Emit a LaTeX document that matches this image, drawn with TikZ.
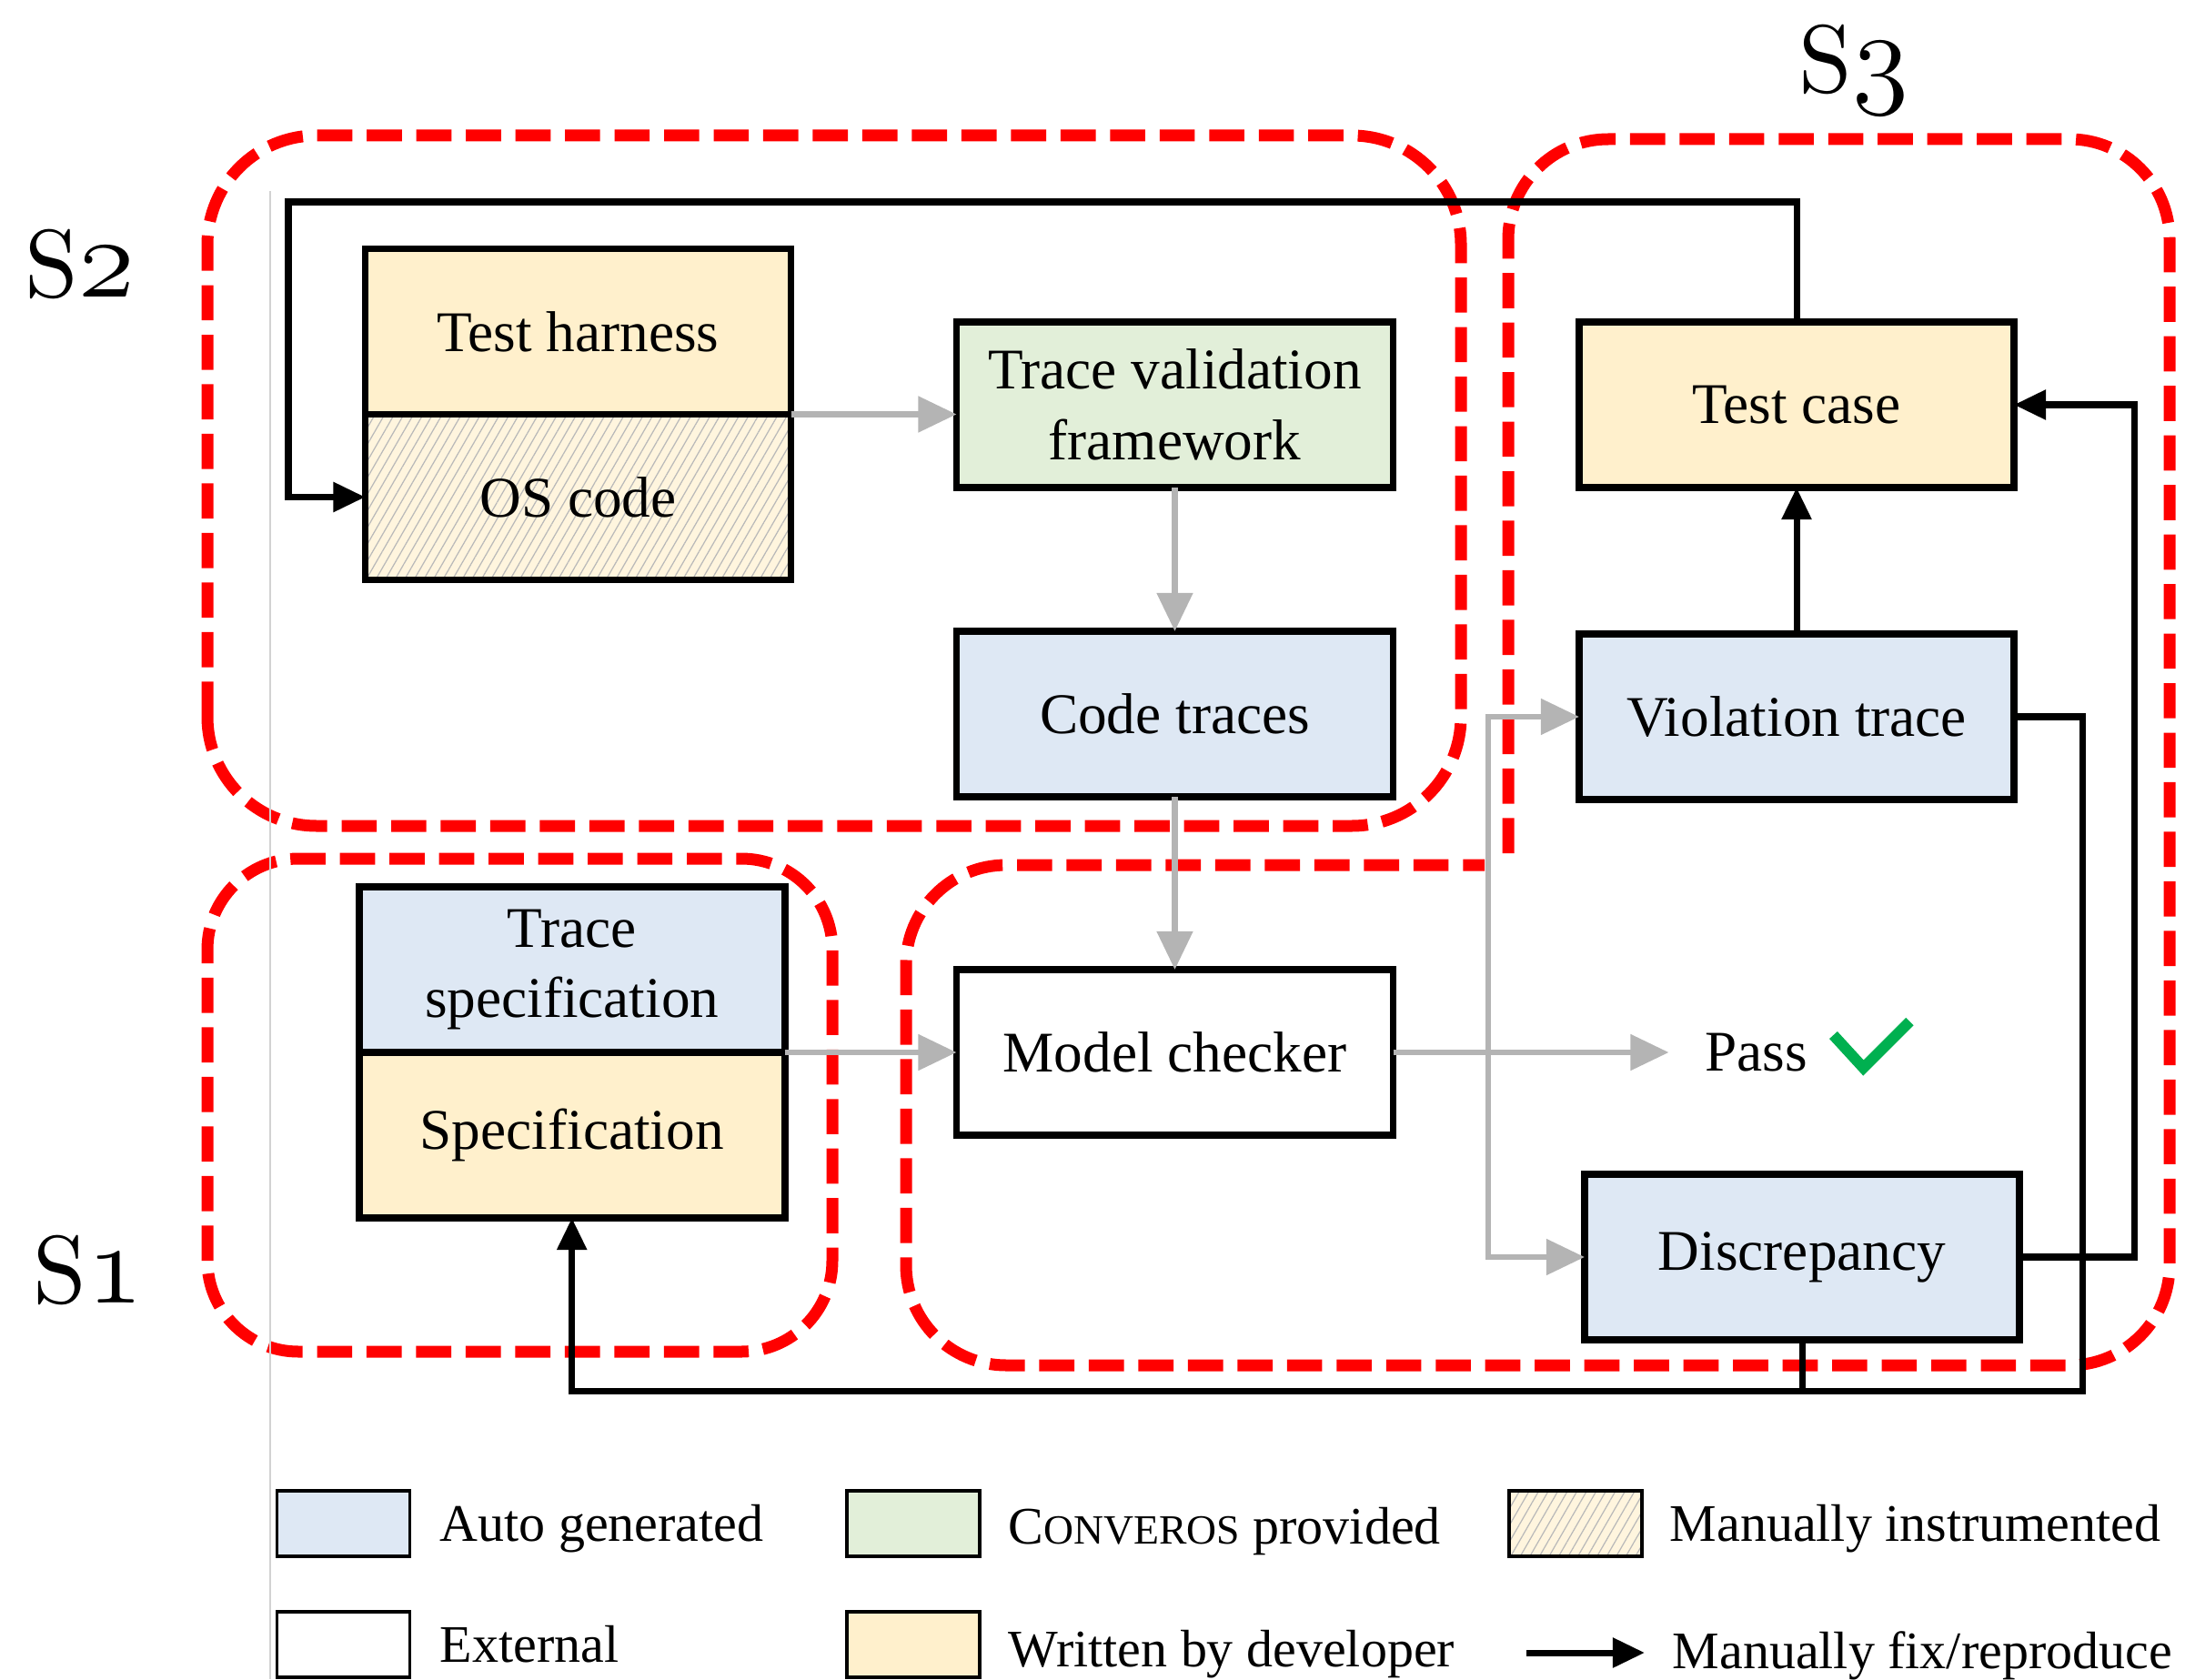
\documentclass[tikz,border=0pt]{standalone}
\usepackage{fontspec}
\usepackage{tikz}
\usetikzlibrary{arrows.meta,positioning,patterns.meta}

\newfontfamily\boxfont{Liberation Serif}
\newcommand{\stagenum}[1]{{\fontsize{12}{14}\selectfont\usefont{OML}{lmm}{m}{it}#1}}
\definecolor{autoblue}{HTML}{DEE8F4}
\definecolor{provgreen}{HTML}{E2EFD9}
\definecolor{devyellow}{HTML}{FFF0CC}
\definecolor{flowgray}{HTML}{B4B4B4}
\definecolor{passgreen}{HTML}{00B050}

\begin{document}
\begin{tikzpicture}[>={Triangle[length=10pt,width=9pt]},
    blockbox/.style={draw, line width=2.2pt, minimum width=4.8cm, minimum height=1.82cm,
                     inner sep=0pt, outer sep=0pt, align=center,
                     font=\boxfont\fontsize{18}{22}\selectfont},
    hatch/.style={preaction={fill=devyellow!65!white},
                  pattern={Lines[angle=60,distance=2.6pt,line width=0.35pt]}, pattern color=gray!55},
    autobox/.style={blockbox, fill=autoblue},
    provbox/.style={blockbox, fill=provgreen},
    devbox/.style={blockbox, fill=devyellow},
    extbox/.style={blockbox, fill=white},
    instbox/.style={blockbox, hatch},
    flow/.style={-{Triangle[length=12pt,width=11pt]}, draw=flowgray, line width=1.8pt},
    fixarrow/.style={->, line width=2pt},
    fixline/.style={line width=2pt},
    stage/.style={red, line width=3.7pt, dash pattern=on 11pt off 4.5pt},
    stagelabel/.style={anchor=base, inner sep=0pt, scale=3.0, font=\fontsize{10}{12}\selectfont},
    swatch/.style={draw, line width=1pt, minimum width=1.46cm, minimum height=0.72cm, inner sep=0pt},
    legendtext/.style={anchor=base west, inner sep=0pt, font=\boxfont\fontsize{16.5}{20}\selectfont}]
  \useasboundingbox (0,0) rectangle (24.02,18.46);

  \draw[stage, rounded corners=1.2cm] (2.28,9.38) rectangle (16.06,16.97);
  \draw[stage, rounded corners=1cm] (2.28,3.60) rectangle (9.15,9.02);
  \draw[stage, rounded corners=1.1cm] (16.58,9.08) -- (16.58,16.93) -- (23.85,16.93)
        -- (23.85,3.45) -- (9.96,3.45) -- (9.96,8.95) -- (16.32,8.95);

  \node[stagelabel] (s2) at (0.88,15.20) {S\stagenum{2}};
  \node[stagelabel] (s3) at (20.38,17.44) {S\stagenum{3}};
  \node[stagelabel] (s1) at (0.97,4.14) {S\stagenum{1}};

  \draw[gray!35, line width=0.4pt] (2.97,16.36) -- (2.97,0);

  \node[devbox, minimum width=4.68cm]  (th)   at (6.355,14.815) {Test harness};
  \node[instbox, minimum width=4.68cm] (os)   [below=0pt of th] {OS code};
  \node[provbox]                       (tvf)  at (12.915,14.01) {Trace validation\\framework};
  \node[autobox]                       (ct)   [below=1.58cm of tvf] {Code traces};
  \node[extbox]                        (mc)   [below=1.9cm of ct] {Model checker};
  \node[autobox, minimum width=4.68cm] (ts)   at (6.287,7.80) {Trace\\specification};
  \node[devbox, minimum width=4.68cm]  (spec) [below=0pt of ts] {Specification};
  \node[devbox, minimum width=4.78cm]  (tc)   at (19.75,14.01) {Test case};
  \node[autobox, minimum width=4.78cm] (vt)   [below=1.61cm of tc] {Violation trace};
  \node[autobox, minimum width=4.78cm] (disc) at (19.81,4.64) {Discrepancy};
  \node[inner xsep=0.39cm, inner ysep=0pt, font=\boxfont\fontsize{18}{22}\selectfont]
                                       (pass) [right=3.03cm of mc] {Pass};
  \draw[passgreen, line width=3.4pt] ([shift={(0.85,0.19)}]pass.center) -- ++(0.33,-0.36) -- ++(0.51,0.51);

  \coordinate (split) at ([xshift=1.045cm]mc.east);
  \coordinate (loopcorner) at (3.17,16.24);
  \coordinate (low) at (22.89,3.17);

  \draw[flow] (th.south east) -- (th.south east -| tvf.west);
  \draw[flow] (tvf) -- (ct);
  \draw[flow] (ct) -- (mc);
  \draw[flow] (ts.south east) -- (ts.south east -| mc.west);
  \draw[flow] (mc) -- (pass);
  \draw[flow] (split) |- (vt.west);
  \draw[flow] (split) |- (disc.west);

  \draw[fixarrow] (tc.north) |- (loopcorner) |- (os.west);
  \draw[fixarrow] (vt) -- (tc);
  \draw[fixarrow] (disc.east) -- ++(1.26,0) |- (tc.east);
  \draw[fixarrow] (vt.east) -| (low) -| (spec.south);
  \draw[fixline] (disc.south) -- (disc.south |- low);

  \node[swatch, fill=autoblue]  (lauto) at (3.775,1.71) {};
  \node[legendtext] (lautotext) at (4.83,1.52) {Auto generated};
  \node[swatch, fill=provgreen] (lprov) at (10.04,1.71) {};
  \node[legendtext] (lprovtext) at (11.08,1.49) {C{\fontsize{13}{16}\selectfont ONVEROS} provided};
  \node[swatch, hatch]          (linst) at (17.32,1.71) {};
  \node[legendtext] (linsttext) at (18.35,1.52) {Manually instrumented};
  \node[swatch, fill=white]     (lext)  at (3.775,0.38) {};
  \node[legendtext] (lexttext)  at (4.83,0.19) {External};
  \node[swatch, fill=devyellow] (ldev)  at (10.04,0.38) {};
  \node[legendtext] (ldevtext)  at (11.08,0.14) {Written by developer};
  \coordinate (lfixa) at (16.78,0.29);
  \coordinate (lfixb) at (18.08,0.29);
  \draw[fixarrow] (lfixa) -- (lfixb);
  \node[legendtext] (lfixtext)  at (18.38,0.12) {Manually fix/reproduce};
\end{tikzpicture}
\end{document}
